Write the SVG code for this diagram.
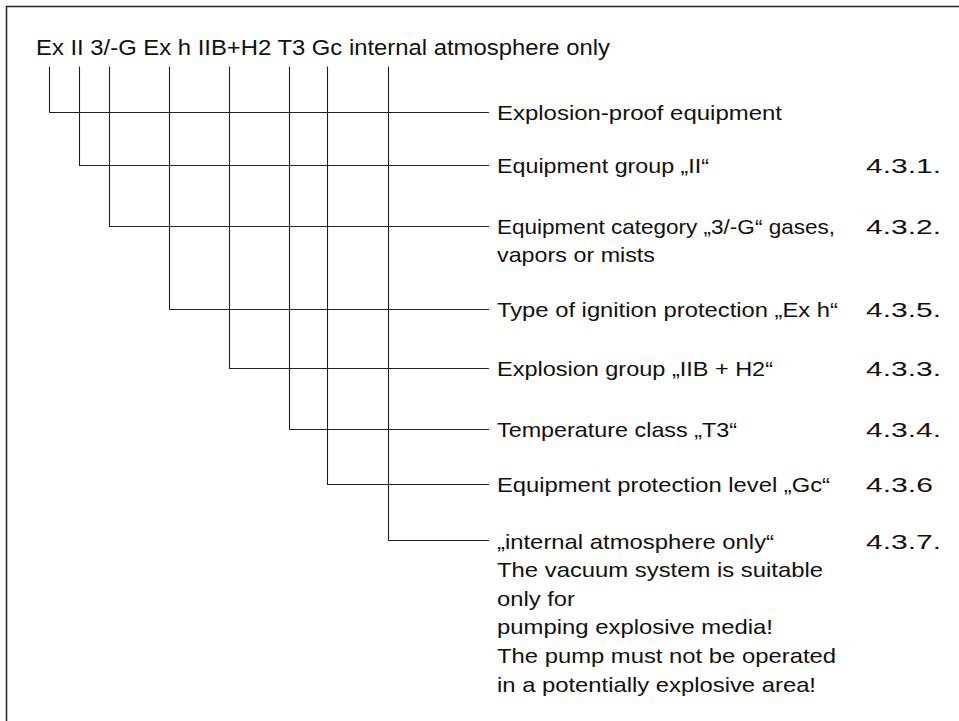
<svg xmlns="http://www.w3.org/2000/svg" width="959" height="721" viewBox="0 0 959 721">
<style>
text { font-family: "Liberation Sans", Arial, sans-serif; fill: #111; }
.t { font-size: 21.5px; }
.l { font-size: 20.4px; }
.c { fill: none; stroke: #222; stroke-width: 1.1; }
.f { fill: none; stroke: #222; stroke-width: 1.5; }
</style>
<rect width="959" height="721" fill="#fff"/>
<path class="f" d="M6.5,721 V6.5 H959"/>
<g id="title"><text class="t" x="36" y="54.5" textLength="574" lengthAdjust="spacingAndGlyphs">Ex II 3/-G Ex h IIB+H2 T3 Gc internal atmosphere only</text></g>
<g id="connectors">
<path class="c" d="M49.5,66.5 V112.5 H489"/>
<path class="c" d="M79.5,66.5 V165.5 H489"/>
<path class="c" d="M109.5,66.5 V226.5 H489"/>
<path class="c" d="M169.5,66.5 V309.5 H489"/>
<path class="c" d="M229.5,66.5 V368.5 H489"/>
<path class="c" d="M289.5,66.5 V429.5 H489"/>
<path class="c" d="M327.5,66.5 V484.5 H489"/>
<path class="c" d="M388.5,66.5 V540.5 H489"/>
</g>
<g id="n-explosion-proof"><text class="l" x="497" y="119.5" textLength="285" lengthAdjust="spacingAndGlyphs">Explosion-proof equipment</text></g>
<g id="n-group"><text class="l" x="497" y="172.5" textLength="212" lengthAdjust="spacingAndGlyphs">Equipment group „II“</text><text class="l" x="866" y="172.5" textLength="75" lengthAdjust="spacingAndGlyphs">4.3.1.</text></g>
<g id="n-category"><text class="l" x="497" y="233.5" textLength="338" lengthAdjust="spacingAndGlyphs">Equipment category „3/-G“ gases,</text><text class="l" x="497" y="262" textLength="158" lengthAdjust="spacingAndGlyphs">vapors or mists</text><text class="l" x="866" y="233.5" textLength="75" lengthAdjust="spacingAndGlyphs">4.3.2.</text></g>
<g id="n-protection-type"><text class="l" x="497" y="316.5" textLength="341" lengthAdjust="spacingAndGlyphs">Type of ignition protection „Ex h“</text><text class="l" x="866" y="316.5" textLength="75" lengthAdjust="spacingAndGlyphs">4.3.5.</text></g>
<g id="n-explosion-group"><text class="l" x="497" y="376" textLength="276" lengthAdjust="spacingAndGlyphs">Explosion group „IIB + H2“</text><text class="l" x="866" y="376" textLength="75" lengthAdjust="spacingAndGlyphs">4.3.3.</text></g>
<g id="n-temperature"><text class="l" x="497" y="436.5" textLength="240" lengthAdjust="spacingAndGlyphs">Temperature class „T3“</text><text class="l" x="866" y="436.5" textLength="75" lengthAdjust="spacingAndGlyphs">4.3.4.</text></g>
<g id="n-epl"><text class="l" x="497" y="491.5" textLength="333" lengthAdjust="spacingAndGlyphs">Equipment protection level „Gc“</text><text class="l" x="866" y="491.5" textLength="67" lengthAdjust="spacingAndGlyphs">4.3.6</text></g>
<g id="n-internal"><text class="l" x="497" y="548.5" textLength="277" lengthAdjust="spacingAndGlyphs">„internal atmosphere only“</text><text class="l" x="497" y="577" textLength="326" lengthAdjust="spacingAndGlyphs">The vacuum system is suitable</text><text class="l" x="497" y="605.5" textLength="78" lengthAdjust="spacingAndGlyphs">only for</text><text class="l" x="497" y="634" textLength="276" lengthAdjust="spacingAndGlyphs">pumping explosive media!</text><text class="l" x="497" y="663" textLength="339" lengthAdjust="spacingAndGlyphs">The pump must not be operated</text><text class="l" x="497" y="691.5" textLength="319" lengthAdjust="spacingAndGlyphs">in a potentially explosive area!</text><text class="l" x="866" y="548.5" textLength="75" lengthAdjust="spacingAndGlyphs">4.3.7.</text></g>
</svg>
